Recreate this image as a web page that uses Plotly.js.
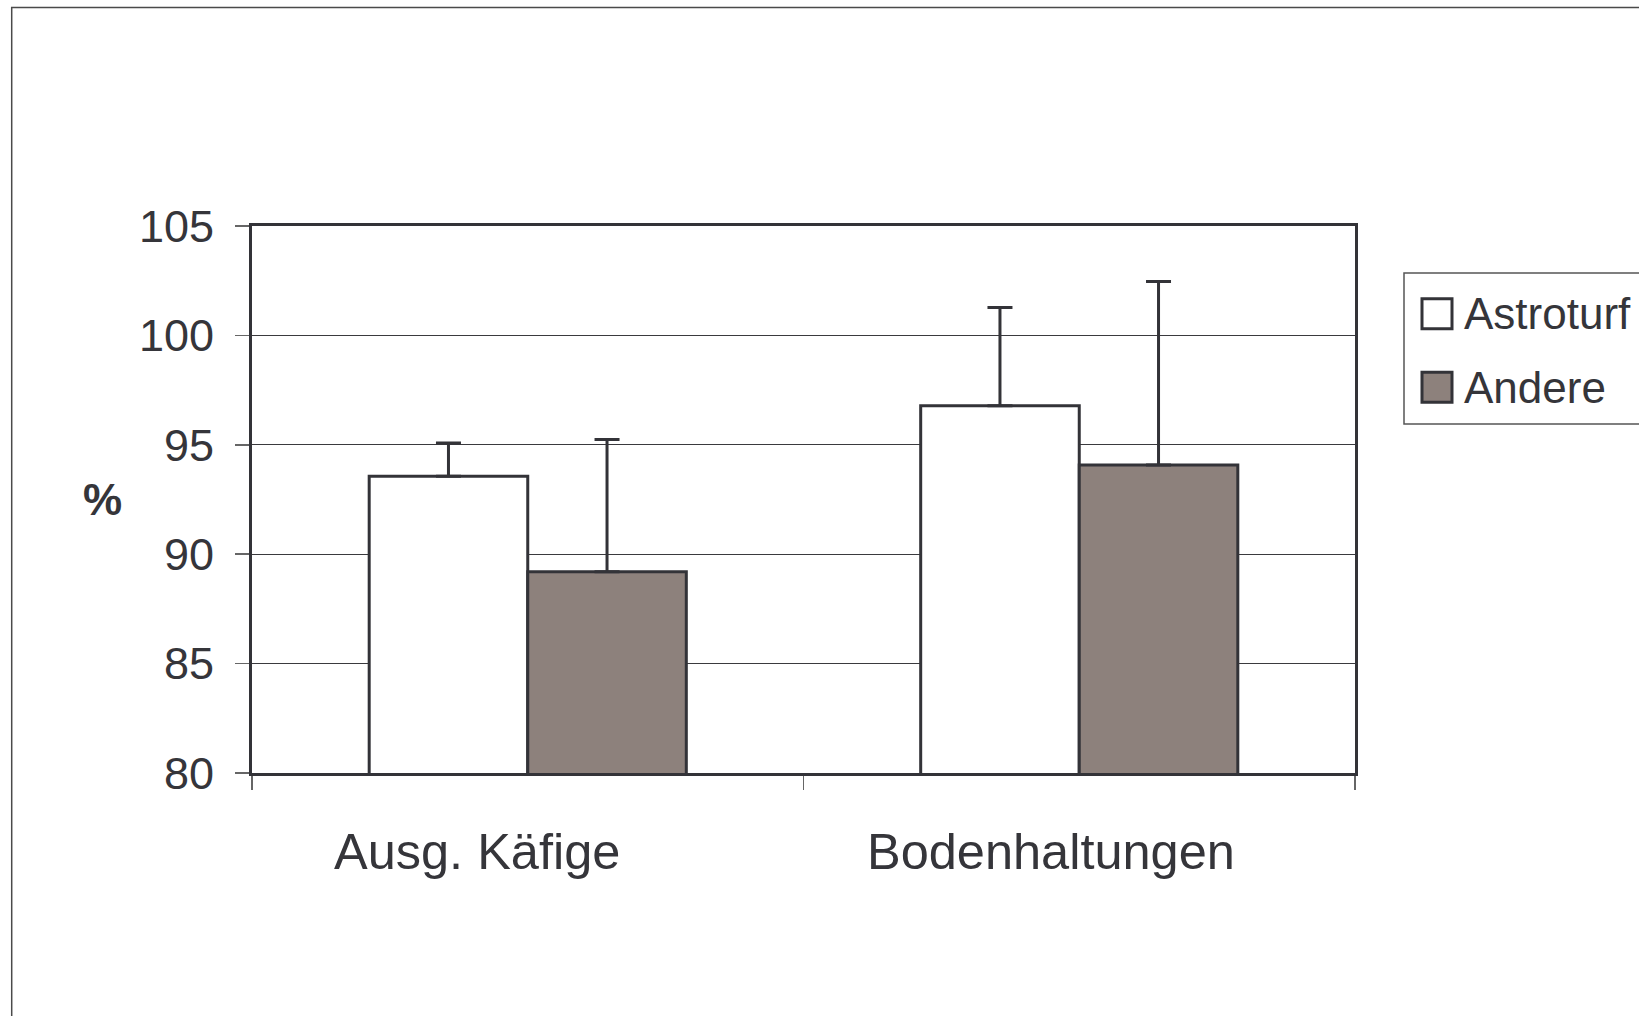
<!DOCTYPE html>
<html>
<head>
<meta charset="utf-8">
<script src="https://cdn.plot.ly/plotly-3.0.1.min.js"></script>
<style>
  html, body { margin: 0; padding: 0; background: #ffffff; }
  #chart { width: 1639px; height: 1016px; }
</style>
</head>
<body>
<div id="chart"></div>
<script>
// ---- data ----
const categories = ["Ausg. Käfige", "Bodenhaltungen"];
const seriesNames = ["Astroturf", "Andere"];
const astroturfValues = [93.56, 96.79];
const astroturfErrors = [1.52, 4.48];
const andereValues = [89.2, 94.08];
const andereErrors = [6.04, 8.38];
const noErrorBelow = [0, 0];
const yTickValues = [80, 85, 90, 95, 100, 105];
const yAxisLabel = "%";

// ---- style ----
const W = 1639, H = 1016;
const M = { l: 252, r: 284, t: 226, b: 243 };
const PW = W - M.l - M.r, PH = H - M.t - M.b;
const ink = "#333338";
const textColor = "#35353a";
const fills = ["#ffffff", "#8d817c"];
const font = "Liberation Sans, Arial, Helvetica, sans-serif";
const px = v => (v - M.l) / PW;          // pixel x -> paper x
const py = v => (H - M.b - v) / PH;      // pixel y -> paper y

const errStyle = (arr) => ({
  type: "data", symmetric: false, array: arr, arrayminus: noErrorBelow,
  visible: true, color: ink, thickness: 3, width: 12.5
});

const traces = [
  { type: "bar", name: seriesNames[0], x: categories, y: astroturfValues,
    marker: { color: fills[0], line: { color: ink, width: 3 } },
    error_y: errStyle(astroturfErrors), hoverinfo: "none" },
  { type: "bar", name: seriesNames[1], x: categories, y: andereValues,
    marker: { color: fills[1], line: { color: ink, width: 3 } },
    error_y: errStyle(andereErrors), hoverinfo: "none" }
];

// custom legend (large square swatches) + category labels + axis label
const shapes = [
  // outer frame of the chart area
  { type: "rect", xref: "paper", yref: "paper", layer: "below",
    x0: px(11.7), x1: px(W + 60), y0: py(7.5), y1: py(H + 60),
    line: { color: "#4a4a4a", width: 1.5 }, fillcolor: "rgba(0,0,0,0)" },
  // legend box
  { type: "rect", xref: "paper", yref: "paper",
    x0: px(1404), x1: px(W + 60), y0: py(273), y1: py(424),
    line: { color: "#555555", width: 1.5 }, fillcolor: "#ffffff" }
];
const annotations = [];
const legendRowsY = [313.7, 387.3];
seriesNames.forEach((name, i) => {
  const cy = legendRowsY[i];
  shapes.push({ type: "rect", xref: "paper", yref: "paper",
    x0: px(1422), x1: px(1452), y0: py(cy - 15), y1: py(cy + 15),
    line: { color: ink, width: 3 }, fillcolor: fills[i] });
  annotations.push({ xref: "paper", yref: "paper", x: px(1462), y: py(cy),
    xanchor: "left", yanchor: "middle", showarrow: false, text: name,
    font: { family: font, size: 44, color: textColor } });
});
const catShift = [-51, -28];
categories.forEach((c, i) => {
  annotations.push({ xref: "x", yref: "paper", x: c, y: 0, xshift: catShift[i],
    yshift: -78, xanchor: "center", yanchor: "middle", showarrow: false, text: c,
    font: { family: font, size: 50.5, color: textColor } });
});
annotations.push({ xref: "paper", yref: "paper", x: px(102), y: 0.5,
  xanchor: "center", yanchor: "middle", showarrow: false,
  text: "<b>" + yAxisLabel + "</b>",
  font: { family: font, size: 44, color: textColor } });

const layout = {
  width: W, height: H,
  margin: M,
  paper_bgcolor: "#ffffff", plot_bgcolor: "#ffffff",
  showlegend: false,
  barmode: "group", bargap: 0.425, bargroupgap: 0,
  font: { family: font, color: textColor },
  xaxis: {
    type: "category", showticklabels: false,
    tickson: "boundaries", ticks: "outside", ticklen: 14, tickwidth: 1.5, tickcolor: "#666666",
    showline: true, linecolor: ink, linewidth: 3, mirror: true,
    showgrid: false, zeroline: false, fixedrange: true
  },
  yaxis: {
    range: [80, 105], tickvals: yTickValues, ticktext: yTickValues.map(String),
    ticks: "outside", ticklen: 14, tickwidth: 1.5, tickcolor: "#666666",
    ticklabelstandoff: 12,
    tickfont: { family: font, size: 45, color: textColor },
    showline: true, linecolor: ink, linewidth: 3, mirror: true,
    showgrid: true, gridcolor: "#3a3a3e", gridwidth: 1.2,
    zeroline: false, fixedrange: true
  },
  shapes: shapes,
  annotations: annotations
};

Plotly.newPlot("chart", traces, layout, { displayModeBar: false, staticPlot: true });
</script>
</body>
</html>
